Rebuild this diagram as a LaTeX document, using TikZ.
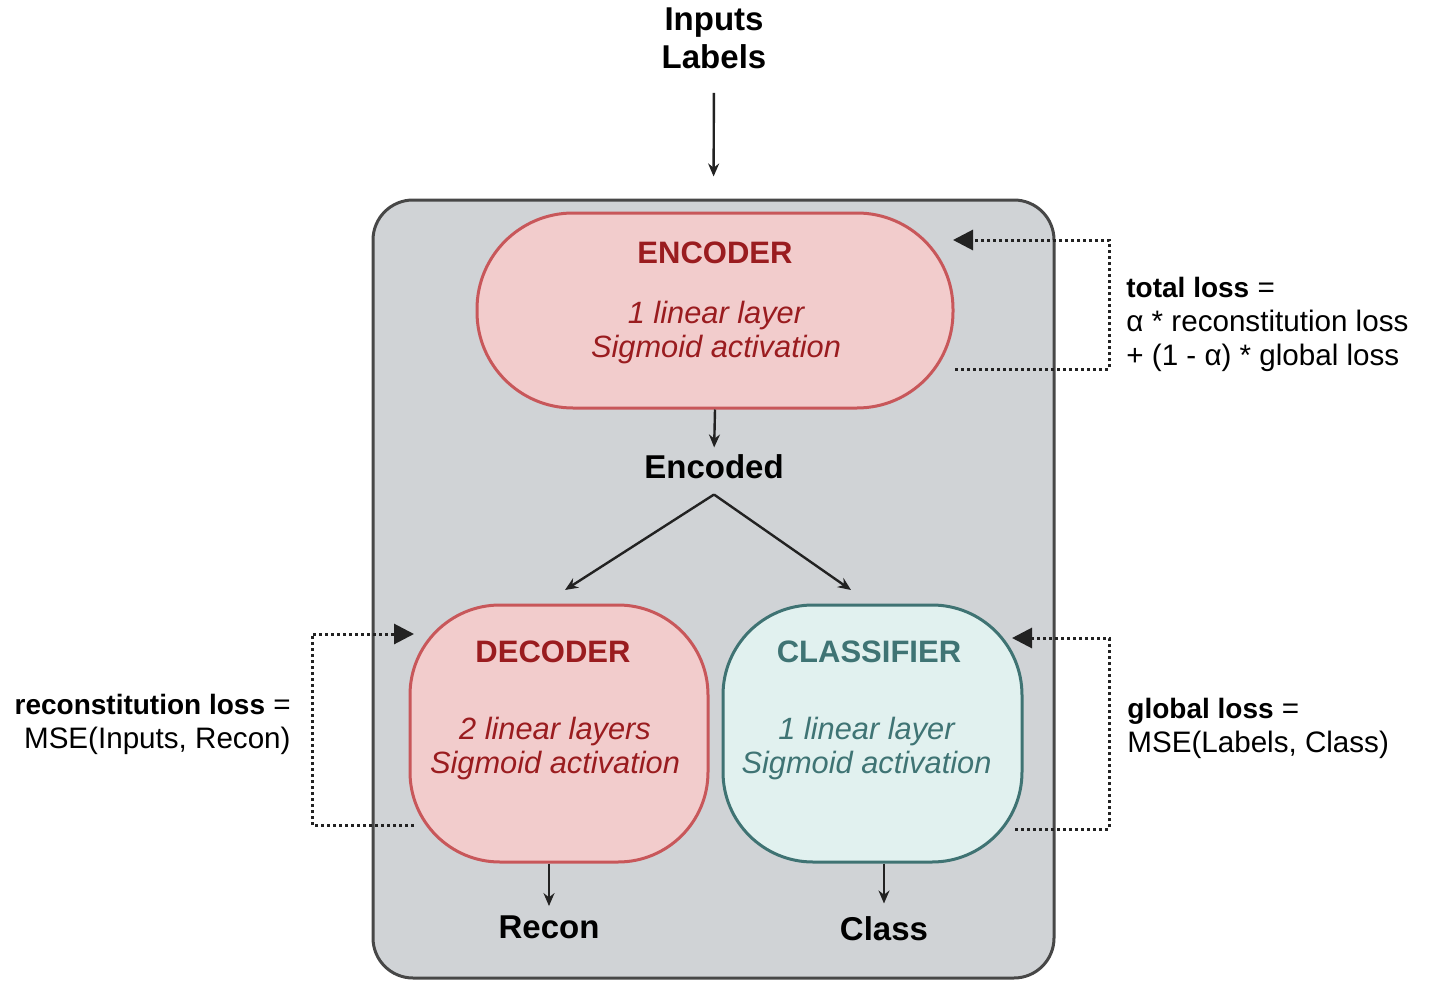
\documentclass[tikz,border=0pt]{standalone}
\usepackage{fontspec}
\setmainfont{Liberation Sans}
\usetikzlibrary{arrows.meta}

\definecolor{panelgray}{HTML}{D0D3D6}
\definecolor{paneledge}{HTML}{474747}
\definecolor{encfill}{HTML}{F2CCCC}
\definecolor{encedge}{HTML}{C8575A}
\definecolor{enctext}{HTML}{9A1C1F}
\definecolor{clsfill}{HTML}{E1F1EF}
\definecolor{clsedge}{HTML}{3F7373}
\definecolor{clstext}{HTML}{3F7474}
\definecolor{ink}{HTML}{222222}

% bold head of a loss formula
\newcommand\losshead[1]{{\bfseries\fontsize{14}{17}\selectfont #1}}

\begin{document}
\begin{tikzpicture}[x=0.5pt,y=-0.5pt,
  panel/.style={draw=paneledge, line width=1.5pt, fill=panelgray, rounded corners=20pt, inner sep=0pt},
  pinkbox/.style={draw=encedge, fill=encfill, line width=1.5pt, inner sep=0pt},
  tealbox/.style={draw=clsedge, fill=clsfill, line width=1.5pt, inner sep=0pt},
  title/.style={font=\bfseries\fontsize{15.5}{18}\selectfont, inner sep=0pt},
  detail/.style={font=\itshape\fontsize{15.4}{17}\selectfont, align=center, inner sep=0pt},
  datum/.style={font=\bfseries\fontsize{16.5}{19}\selectfont, align=center, inner sep=0pt, text=black},
  note/.style={font=\fontsize{14.8}{17}\selectfont, inner sep=0pt, text=black},
  flow/.style={draw=ink, line width=1.2pt, -{Stealth[length=6.5pt,width=5.5pt]}},
  feedback/.style={draw=ink, line width=1.5pt, dash pattern=on 1.5pt off 1.5pt,
                   -{Triangle[length=10pt,width=10pt]}},
]
\useasboundingbox (0,0) rectangle (1430,990);

% grey model panel
\node[panel, minimum width=340.5pt, minimum height=389pt] (panel) at (713.5,589) {};

% the three sub-networks
\node[pinkbox, rounded corners=48pt, minimum width=238pt, minimum height=97.5pt] (enc) at (715,310.5) {};
\node[pinkbox, rounded corners=45pt, minimum width=149pt, minimum height=128.5pt] (dec) at (559,733.5) {};
\node[tealbox, rounded corners=45pt, minimum width=149.5pt, minimum height=128.5pt] (cls) at (872.5,733.5) {};

\node[title, text=enctext] (enctitle) at (715,253) {ENCODER};
\node[detail, text=enctext] (encinfo) at (716,333) {1 linear layer\\Sigmoid activation};
\node[title, text=enctext] (dectitle) at (553,652) {DECODER};
\node[detail, text=enctext] (decinfo) at (555,748.5) {2 linear layers\\Sigmoid activation};
\node[title, text=clstext] (clstitle) at (869,652) {CLASSIFIER};
\node[detail, text=clstext] (clsinfo) at (866.5,748.5) {1 linear layer\\Sigmoid activation};

% data labels
\node[datum] (src) at (714,38) {Inputs\\Labels};
\node[datum] (encoded) at (714,467) {Encoded};
\node[datum] (recon) at (549,927) {Recon};
\node[datum] (class) at (884,929) {Class};

% loss annotations
\node[note, align=left, anchor=west] (totalloss) at (1126,324)
  {\losshead{total loss} =\\α * reconstitution loss\\+ (1 - α) * global loss};
\node[note, align=left, anchor=west] (globalloss) at (1127,728)
  {\losshead{global loss} =\\MSE(Labels, Class)};
\node[note, align=right, anchor=east] (recloss) at (291,724)
  {\losshead{reconstitution loss} =\\MSE(Inputs, Recon)};

% forward data flow
\coordinate (decin) at (565,590);
\coordinate (clsin) at (851,590);
\draw[flow, shorten <=12pt, shorten >=11pt] (src.south) -- (panel.north);
\draw[flow, shorten >=3.5pt] (enc.south) -- (encoded.north);
\draw[flow] ([yshift=-7.5pt]encoded.south) -- (decin);
\draw[flow] ([yshift=-7.5pt]encoded.south) -- (clsin);
\draw[flow, shorten >=4.5pt] (recon.north |- dec.south) -- (recon.north);
\draw[flow, shorten >=6.5pt] (class.north |- cls.south) -- (class.north);

% loss feedback loops
\coordinate (totalout) at (955,369);
\coordinate (totalin) at (953,240);
\coordinate (recout) at (414,825);
\coordinate (recin) at (414,634);
\coordinate (globout) at (1015,829);
\coordinate (globin) at (1012,638);
\draw[feedback] (totalout) -| ([xshift=78pt]totalin) -- (totalin);
\draw[feedback] (recout) -| ([xshift=-51pt]recin) -- (recin);
\draw[feedback] (globout) -| ([xshift=48.5pt]globin) -- (globin);
\end{tikzpicture}
\end{document}
